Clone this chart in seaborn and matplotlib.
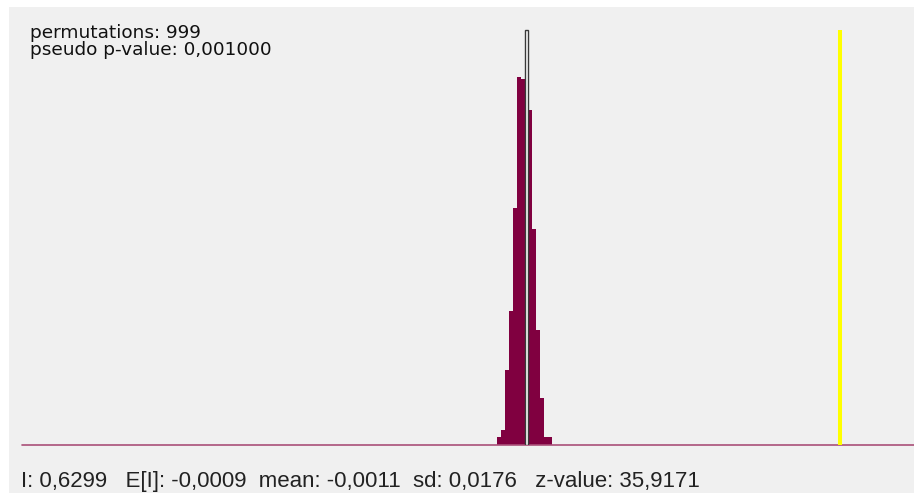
import numpy as np
import matplotlib
matplotlib.use('Agg')
import matplotlib.pyplot as plt
from matplotlib.patches import Rectangle
import seaborn as sns

sns.set_theme(style='white')
plt.rcParams['font.family'] = ['Liberation Sans', 'DejaVu Sans']

# 置换检验的参考分布
bin_edges = [-0.0611, -0.0531, -0.0451, -0.0371, -0.0291, -0.0211, -0.0131, -0.0051,
             0.0029, 0.0109, 0.0189, 0.0269, 0.0349, 0.0429, 0.0509]
bin_counts = [3, 6, 32, 57, 101, 157, 156, 177, 143, 92, 49, 20, 3, 3]
mean_bin = 7          # 白色高亮的柱子
observed_I = 0.6299

top_lines = ['permutations: 999', 'pseudo p-value: 0,001000']
bottom_line = 'I: 0,6299   E[I]: -0,0009  mean: -0,0011  sd: 0,0176   z-value: 35,9171'

bg = '#f0f0f0'
bar_color = '#800040'
base_color = '#aa5078'

W, H = 914, 493
fig = plt.figure(figsize=(W / 100, H / 100), dpi=100, facecolor='white')
fig.add_artist(Rectangle((9 / W, 0), 1 - 9 / W, (H - 7) / H, transform=fig.transFigure,
                         facecolor=bg, edgecolor='none', zorder=-10))

ax = fig.add_axes([22 / W, 48.5 / H, (W - 22) / W, 436.5 / H])
ax.set_facecolor(bg)
ax.patch.set_alpha(0)

centers = [(a + b) / 2 for a, b in zip(bin_edges[:-1], bin_edges[1:])]
sns.histplot(x=centers, weights=bin_counts, bins=bin_edges, color=bar_color,
             alpha=1, linewidth=0, ax=ax)
hl = ax.patches[mean_bin]
hl.set_facecolor('white')
hl.set_edgecolor('#3a3a3a')
hl.set_linewidth(1.0)
hl.set_zorder(3)

ax.axhline(0, color=base_color, lw=1.2, clip_on=False, zorder=2)
ax.vlines(observed_I, 0, max(bin_counts), color='#ffff00', lw=2.9, zorder=4)

ax.set_xlim(-1.0174, 0.7795)
ax.set_ylim(0, 186.4)
ax.axis('off')

fig.text(30 / W, (H - 38.3) / H, top_lines[0], family=['DejaVu Sans'], fontsize=13.3,
         color='#111111', va='baseline', ha='left')
fig.text(30 / W, (H - 55) / H, top_lines[1], family=['DejaVu Sans'], fontsize=13.3,
         color='#111111', va='baseline', ha='left')
fig.text(21 / W, (H - 487) / H, bottom_line, fontsize=16,
         color='#222222', va='baseline', ha='left')

fig.savefig('out.png', dpi=100, facecolor='white')
